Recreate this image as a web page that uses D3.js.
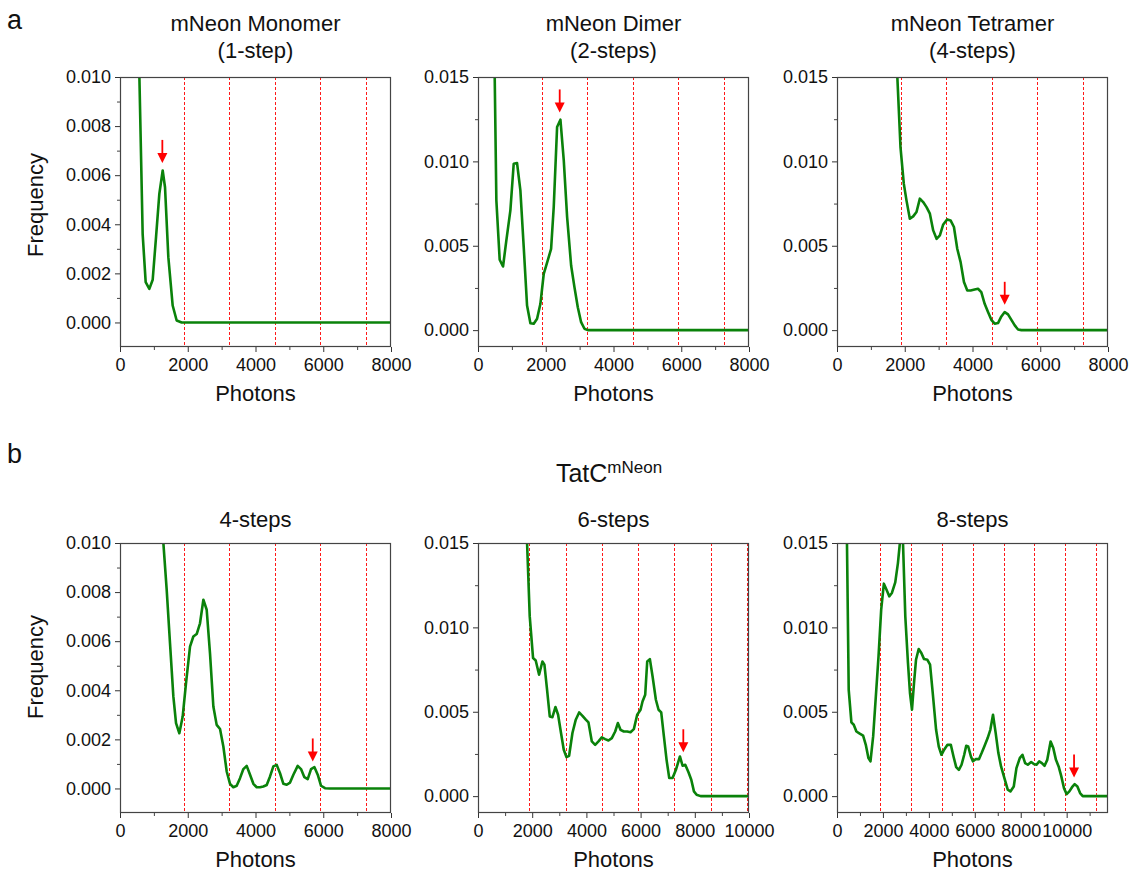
<!DOCTYPE html>
<html>
<head>
<meta charset="utf-8">
<script src="https://cdn.jsdelivr.net/npm/d3@7"></script>
<style>
  body { margin: 0; background: #fff; }
  svg { font-family: "Liberation Sans", Arial, Helvetica, sans-serif; }
</style>
</head>
<body>
<svg id="canvas" width="1130" height="871"></svg>
<script>
// photons / frequency
const monomer = [[470, 0.03], [565, 0.0105], [669, 0.0036], [758, 0.00164], [866, 0.00137], [965, 0.00174],
  [1065, 0.0035], [1161, 0.00524], [1260, 0.00619], [1329, 0.00551], [1427, 0.00266], [1555, 0.00069],
  [1673, 0.00008], [1821, 0], [8000, 0]];

const dimer = [[440, 0.03], [490, 0.0155], [542, 0.00769], [640, 0.00417], [739, 0.00377], [837, 0.00532],
  [956, 0.0071], [1054, 0.00986], [1153, 0.0099], [1251, 0.00828], [1350, 0.00492], [1448, 0.00146],
  [1547, 0.00041], [1645, 0.00038], [1744, 0.00067], [1842, 0.00156], [1941, 0.00334], [2059, 0.00413],
  [2158, 0.00482], [2236, 0.0073], [2335, 0.01204], [2433, 0.01247], [2532, 0.01006], [2631, 0.0067],
  [2749, 0.00383], [2847, 0.00255], [2946, 0.00136], [3044, 0.00047], [3143, 0.00008], [3241, 0], [8000, 0]];

const tetramer = [[1720, 0.03], [1770, 0.0155], [1874, 0.01085], [1972, 0.00868], [2051, 0.00769], [2150, 0.0066],
  [2249, 0.00674], [2347, 0.007], [2446, 0.00779], [2544, 0.00759], [2643, 0.00729], [2742, 0.0069],
  [2840, 0.00591], [2939, 0.00541], [3037, 0.00561], [3136, 0.00626], [3254, 0.00656], [3353, 0.0065],
  [3452, 0.00611], [3550, 0.00482], [3649, 0.00403], [3748, 0.00285], [3846, 0.00235], [3945, 0.00235],
  [4063, 0.00241], [4162, 0.00245], [4260, 0.00225], [4359, 0.00156], [4458, 0.00107], [4556, 0.00061],
  [4655, 0.00038], [4753, 0.00042], [4852, 0.00081], [4951, 0.00107], [5049, 0.00093], [5148, 0.00061],
  [5247, 0.00028], [5345, 0.00004], [5444, 0], [8000, 0]];

const tatc4 = [[1200, 0.02], [1270, 0.0102], [1378, 0.0081], [1476, 0.00592], [1575, 0.00375], [1654, 0.00266],
  [1752, 0.00225], [1850, 0.00293], [1949, 0.00429], [2067, 0.00578], [2165, 0.00619], [2264, 0.00629],
  [2362, 0.00673], [2461, 0.00769], [2559, 0.00728], [2657, 0.0055], [2756, 0.00334], [2854, 0.00259],
  [2953, 0.00242], [3051, 0.00171], [3150, 0.00069], [3248, 0.00019], [3346, 0.00005], [3445, 0.00011],
  [3543, 0.00042], [3642, 0.00079], [3740, 0.00092], [3839, 0.00056], [3937, 0.00019], [4035, 0.00005],
  [4134, 0.00005], [4232, 0.00008], [4331, 0.00014], [4429, 0.00049], [4527, 0.0009], [4626, 0.00096],
  [4724, 0.00062], [4823, 0.00019], [4921, 0.00015], [5020, 0.00024], [5118, 0.00056], [5246, 0.00092],
  [5344, 0.00079], [5443, 0.00046], [5541, 0.00038], [5640, 0.00079], [5738, 0.00087], [5837, 0.00056],
  [5935, 0.00011], [6053, 0.00001], [6201, 0], [8000, 0]];

const tatc6 = [[1750, 0.03], [1800, 0.0155], [1909, 0.01065], [2032, 0.00818], [2130, 0.00804], [2254, 0.00719],
  [2377, 0.00798], [2451, 0.00779], [2549, 0.0063], [2648, 0.00472], [2746, 0.00468], [2857, 0.00528],
  [2956, 0.00482], [3054, 0.00383], [3165, 0.00275], [3264, 0.00231], [3362, 0.00239], [3485, 0.00374],
  [3608, 0.00453], [3732, 0.00496], [3855, 0.00476], [3978, 0.00453], [4076, 0.00437], [4200, 0.00324],
  [4323, 0.00304], [4446, 0.00324], [4569, 0.00348], [4692, 0.00338], [4815, 0.0033], [4938, 0.00344],
  [5062, 0.00383], [5160, 0.00433], [5259, 0.00393], [5382, 0.00383], [5505, 0.00383], [5628, 0.00379],
  [5751, 0.00397], [5874, 0.00482], [5998, 0.00512], [6071, 0.00561], [6170, 0.00601], [6244, 0.00798],
  [6342, 0.00812], [6441, 0.0071], [6564, 0.00571], [6663, 0.00512], [6761, 0.00496], [6860, 0.00354],
  [6958, 0.00215], [7057, 0.00107], [7180, 0.00107], [7303, 0.00156], [7451, 0.00235], [7549, 0.0018],
  [7648, 0.00186], [7771, 0.0014], [7870, 0.00097], [7968, 0.00028], [8067, 0.00008], [8214, 0], [10000, 0]];

const tatc8 = [[380, 0.03], [430, 0.0155], [510, 0.0063], [627, 0.00437], [729, 0.00423], [845, 0.00383],
  [991, 0.0037], [1137, 0.00358], [1254, 0.00304], [1370, 0.00225], [1458, 0.00206], [1574, 0.00354],
  [1691, 0.00591], [1808, 0.00828], [1924, 0.01105], [2041, 0.01259], [2157, 0.01223], [2274, 0.01184],
  [2391, 0.01204], [2536, 0.01267], [2653, 0.01381], [2760, 0.0153], [2860, 0.0156], [2974, 0.01065],
  [3090, 0.00789], [3178, 0.00611], [3265, 0.00512], [3353, 0.0067], [3440, 0.00808], [3557, 0.00872],
  [3673, 0.00848], [3790, 0.00812], [3936, 0.00808], [4052, 0.00779], [4169, 0.00611], [4315, 0.00393],
  [4431, 0.00294], [4548, 0.00245], [4665, 0.00275], [4810, 0.00304], [4956, 0.00304], [5073, 0.00235],
  [5190, 0.00172], [5306, 0.00156], [5423, 0.00186], [5539, 0.00245], [5627, 0.00298], [5714, 0.00294],
  [5831, 0.00235], [5918, 0.00206], [6035, 0.00219], [6181, 0.00219], [6297, 0.00255], [6414, 0.00294],
  [6560, 0.00344], [6676, 0.00393], [6793, 0.00482], [6910, 0.00373], [7026, 0.00255], [7143, 0.00176],
  [7289, 0.00107], [7434, 0.00038], [7551, 0.00028], [7697, 0.00057], [7813, 0.00166], [7959, 0.00225],
  [8076, 0.00245], [8192, 0.00196], [8309, 0.00186], [8455, 0.00202], [8571, 0.0019], [8688, 0.00186],
  [8805, 0.00206], [8921, 0.00196], [9038, 0.0018], [9155, 0.00215], [9301, 0.00324], [9417, 0.00285],
  [9534, 0.00215], [9650, 0.00176], [9767, 0.00117], [9884, 0.00047], [10000, 0.00012], [10117, 0.00028],
  [10234, 0.00053], [10350, 0.00071], [10467, 0.00057], [10584, 0.00018], [10700, 0], [11800, 0]];

// step positions (red dashed lines)
const stepLines = [1890, 3230, 4570, 5910, 7250, 8590, 9930, 11270];

const titles = [["mNeon Monomer", "(1-step)"], ["mNeon Dimer", "(2-steps)"], ["mNeon Tetramer", "(4-steps)"],
  ["4-steps"], ["6-steps"], ["8-steps"]];
const xMax = [8000, 8000, 8000, 8000, 10000, 11800];
const yMax = [0.010, 0.015, 0.015, 0.010, 0.015, 0.015];
const arrowX = [1250, 2412, 4951, 5690, 7576, 10322];
const arrowTip = [0.0065, 0.0129, 0.0015, 0.0011, 0.0026, 0.0011];
const series = [monomer, dimer, tetramer, tatc4, tatc6, tatc8];

let svg = d3.select("#canvas");

const colLeft = [120, 478, 837];
const rowTop = [77, 543];
const larghezza = 271, altezza = 270;

const fmtY = d3.format(".3f");

series.forEach((dati, i) => {
  const col = i % 3, row = Math.floor(i / 3);
  const g = svg.append("g").attr("transform", `translate(${colLeft[col]},${rowTop[row]})`);

  const scalaX = d3.scaleLinear().domain([0, xMax[i]]).range([0, larghezza]);
  const scalaY = d3.scaleLinear().domain([-0.001, yMax[i]]).range([altezza, 0]);

  const passoY = yMax[i] === 0.010 ? 0.002 : 0.005;
  const yMajor = d3.range(0, yMax[i] + 1e-9, passoY);
  const yMinor = d3.range(passoY / 2, yMax[i], passoY);
  const xMajor = d3.range(0, xMax[i] + 1, 2000);
  const xMinor = d3.range(1000, xMax[i], 2000);

  g.append("clipPath").attr("id", "clip" + i)
    .append("rect").attr("width", larghezza).attr("height", altezza);

  // minor ticks
  g.append("g").call(d3.axisLeft(scalaY).tickValues(yMinor).tickSize(3).tickFormat(""))
    .call(a => a.select(".domain").remove())
    .selectAll("line").attr("stroke", "#444");
  g.append("g").attr("transform", `translate(0,${altezza})`)
    .call(d3.axisBottom(scalaX).tickValues(xMinor).tickSize(3).tickFormat(""))
    .call(a => a.select(".domain").remove())
    .selectAll("line").attr("stroke", "#444");

  // major ticks
  const ay = g.append("g")
    .call(d3.axisLeft(scalaY).tickValues(yMajor).tickSize(5).tickPadding(4).tickFormat(fmtY));
  ay.select(".domain").remove();
  ay.selectAll("line").attr("stroke", "#333");
  ay.selectAll("text").attr("font-size", 18).attr("fill", "#111");

  const ax = g.append("g").attr("transform", `translate(0,${altezza})`)
    .call(d3.axisBottom(scalaX).tickValues(xMajor).tickSize(5).tickPadding(6).tickFormat(d3.format("d")));
  ax.select(".domain").remove();
  ax.selectAll("line").attr("stroke", "#333");
  ax.selectAll("text").attr("font-size", 18).attr("fill", "#111");
  ax.attr("font-family", null); ay.attr("font-family", null);

  const area = g.append("g").attr("clip-path", `url(#clip${i})`);

  // dashed lines snapped to the pixel grid so they stay crisp red
  area.selectAll("line.step")
    .data(stepLines.filter(s => s < xMax[i]))
    .enter().append("line")
    .attr("class", "step")
    .attr("x1", d => Math.round(scalaX(d)) + 0.5).attr("x2", d => Math.round(scalaX(d)) + 0.5)
    .attr("y1", 0).attr("y2", altezza)
    .attr("stroke", "#ff1a1a")
    .attr("stroke-width", 1)
    .attr("stroke-dasharray", "3,2");

  area.append("path")
    .datum(dati)
    .attr("d", d3.line().x(d => scalaX(d[0])).y(d => scalaY(d[1])))
    .attr("fill", "none")
    .attr("stroke", "#0a820a")
    .attr("stroke-width", 2.6)
    .attr("stroke-linejoin", "round");

  // frame
  g.append("rect")
    .attr("x", 0.5).attr("y", 0.5)
    .attr("width", larghezza - 1).attr("height", altezza - 1)
    .attr("fill", "none").attr("stroke", "#444").attr("stroke-width", 1.2);

  // red arrow
  const ax0 = scalaX(arrowX[i]), tip = scalaY(arrowTip[i]);
  g.append("line")
    .attr("x1", ax0).attr("x2", ax0)
    .attr("y1", tip - 23).attr("y2", tip - 8)
    .attr("stroke", "#ff0000").attr("stroke-width", 1.8);
  g.append("path")
    .attr("d", `M${ax0 - 5},${tip - 10}L${ax0 + 5},${tip - 10}L${ax0},${tip}Z`)
    .attr("fill", "#ff0000");

  // titles
  const t = titles[i];
  t.forEach((riga, k) => {
    const base = row === 0 ? 31 + k * 27 : 526.5;
    svg.append("text")
      .attr("x", colLeft[col] + larghezza / 2)
      .attr("y", base)
      .attr("text-anchor", "middle")
      .attr("font-size", 22)
      .attr("fill", "#111")
      .text(riga);
  });

  svg.append("text")
    .attr("x", colLeft[col] + larghezza / 2)
    .attr("y", rowTop[row] + altezza + 54)
    .attr("text-anchor", "middle")
    .attr("font-size", 22)
    .attr("fill", "#111")
    .text("Photons");

  if (col === 0) {
    const cy = row === 0 ? 205 : 667;
    svg.append("text")
      .attr("transform", `translate(43,${cy}) rotate(-90)`)
      .attr("text-anchor", "middle")
      .attr("font-size", 22)
      .attr("fill", "#111")
      .text("Frequency");
  }
});

// panel letters
svg.append("text").attr("x", 7).attr("y", 29).attr("font-size", 27).attr("fill", "#111").text("a");
svg.append("text").attr("x", 7).attr("y", 463).attr("font-size", 27).attr("fill", "#111").text("b");

// TatC header with superscript
const header = svg.append("text")
  .attr("x", 609).attr("y", 481.5)
  .attr("text-anchor", "middle")
  .attr("font-size", 25)
  .attr("fill", "#111");
header.append("tspan").text("TatC");
header.append("tspan").attr("font-size", 17).attr("dy", -8.5).text("mNeon");
</script>
</body>
</html>
